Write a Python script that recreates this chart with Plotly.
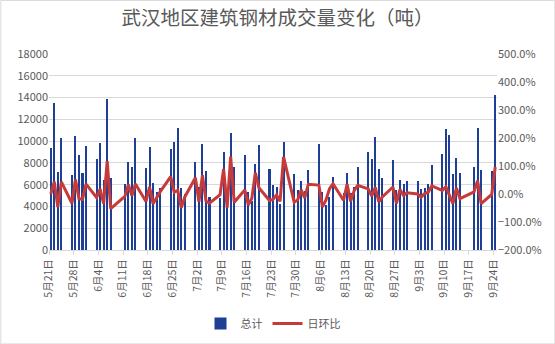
import plotly.graph_objects as go

# ---------------- data ----------------
dates = [
    "2019-05-21", "2019-05-22", "2019-05-23", "2019-05-24",
    "2019-05-27", "2019-05-28", "2019-05-29", "2019-05-30", "2019-05-31",
    "2019-06-03", "2019-06-04", "2019-06-05", "2019-06-06", "2019-06-07",
    "2019-06-11", "2019-06-12", "2019-06-13", "2019-06-14",
    "2019-06-17", "2019-06-18", "2019-06-19", "2019-06-20", "2019-06-21",
    "2019-06-24", "2019-06-25", "2019-06-26", "2019-06-27", "2019-06-28",
    "2019-07-01", "2019-07-02", "2019-07-03", "2019-07-04", "2019-07-05",
    "2019-07-08", "2019-07-09", "2019-07-10", "2019-07-11", "2019-07-12",
    "2019-07-15", "2019-07-16", "2019-07-17", "2019-07-18", "2019-07-19",
    "2019-07-22", "2019-07-23", "2019-07-24", "2019-07-25", "2019-07-26",
    "2019-07-29", "2019-07-30", "2019-07-31", "2019-08-01", "2019-08-02",
    "2019-08-05", "2019-08-06", "2019-08-07", "2019-08-08", "2019-08-09",
    "2019-08-12", "2019-08-13", "2019-08-14", "2019-08-15", "2019-08-16",
    "2019-08-19", "2019-08-20", "2019-08-21", "2019-08-22", "2019-08-23",
    "2019-08-26", "2019-08-27", "2019-08-28", "2019-08-29", "2019-08-30",
    "2019-09-02", "2019-09-03", "2019-09-04", "2019-09-05", "2019-09-06",
    "2019-09-09", "2019-09-10", "2019-09-11", "2019-09-12", "2019-09-13", "2019-09-14",
    "2019-09-18", "2019-09-19", "2019-09-20",
    "2019-09-23", "2019-09-24",
]

total = [
    9400, 13500, 7150, 10250,
    6870, 10450, 8700, 7050, 9550,
    8350, 9800, 6400, 13900, 6600,
    6050, 8050, 7600, 10300,
    7550, 9450, 6150, 5300, 5700,
    9250, 9900, 11200, 5700, 5100,
    8050, 5800, 9700, 7250, 4850,
    4750, 9000, 4600, 10750, 7600,
    8700, 5300, 4500, 7900, 9650,
    7400, 5950, 5750, 4250, 9900,
    6950, 5500, 6300, 5450, 7350,
    9700, 5300, 4150, 4900, 6700,
    5200, 7050, 5200, 5800, 7600,
    9000, 8350, 10350, 7400, 6600,
    8250, 5500, 6400, 6050, 6300,
    6300, 5600, 5700, 6050, 7800,
    8800, 11100, 10550, 6950, 8450, 7050,
    7600, 11200, 7350,
    7250, 14250,
]

daily_change = [
    0.000, 0.436, -0.470, 0.434,
    -0.330, 0.521, -0.167, -0.190, 0.355,
    -0.126, 0.174, -0.347, 1.172, -0.525,
    -0.083, 0.331, -0.056, 0.355,
    -0.267, 0.252, -0.349, -0.138, 0.075,
    0.623, 0.070, 0.131, -0.491, -0.105,
    0.578, -0.280, 0.672, -0.253, -0.331,
    -0.021, 0.895, -0.489, 1.337, -0.293,
    0.145, -0.391, -0.151, 0.756, 0.222,
    -0.233, -0.196, -0.034, -0.261, 1.329,
    -0.298, -0.209, 0.145, -0.135, 0.349,
    0.320, -0.454, -0.217, 0.181, 0.367,
    -0.224, 0.356, -0.262, 0.115, 0.310,
    0.184, -0.072, 0.240, -0.285, -0.108,
    0.250, -0.333, 0.164, -0.055, 0.041,
    0.000, -0.111, 0.018, 0.061, 0.289,
    0.128, 0.261, -0.050, -0.341, 0.216, -0.166,
    0.078, 0.474, -0.344,
    -0.014, 0.966,
]

tick_dates = [
    "2019-05-21", "2019-05-28", "2019-06-04", "2019-06-11", "2019-06-18",
    "2019-06-25", "2019-07-02", "2019-07-09", "2019-07-16", "2019-07-23",
    "2019-07-30", "2019-08-06", "2019-08-13", "2019-08-20", "2019-08-27",
    "2019-09-03", "2019-09-10", "2019-09-17", "2019-09-24",
]
tick_labels = [
    "5月21日", "5月28日", "6月4日", "6月11日", "6月18日",
    "6月25日", "7月2日", "7月9日", "7月16日", "7月23日",
    "7月30日", "8月6日", "8月13日", "8月20日", "8月27日",
    "9月3日", "9月10日", "9月17日", "9月24日",
]

title_text = "武汉地区建筑钢材成交量变化（吨）"
series_names = ["总计", "日环比"]

# ---------------- figure ----------------
DAY_MS = 86400000
FONT = "Noto Sans CJK SC, Microsoft YaHei, sans-serif"
TXT = "#595959"
GRID = "#D9D9D9"

fig = go.Figure()
fig.add_trace(go.Bar(
    x=dates, y=total, name=series_names[0],
    xperiod=DAY_MS, xperiodalignment="middle",
    width=0.58 * DAY_MS,
    marker=dict(color="#1F3F96", line=dict(width=0)),
))
fig.add_trace(go.Scatter(
    x=dates, y=daily_change, name=series_names[1], yaxis="y2",
    xperiod=DAY_MS, xperiodalignment="middle",
    mode="lines", line=dict(color="#C63B3A", width=3),
))

W, H = 555, 344
L, R, T, B = 48.7, 58.3, 54, 94.3
pw, ph = W - L - R, H - T - B

fig.update_layout(
    width=W, height=H,
    margin=dict(l=L, r=R, t=T, b=B, pad=0, autoexpand=False),
    paper_bgcolor="white", plot_bgcolor="white",
    font=dict(family=FONT, color=TXT, size=11),
    title=dict(text=title_text, x=0.5, xanchor="center", y=1 - 18 / H, yanchor="middle",
               font=dict(size=19.5, color=TXT, family=FONT)),
    bargap=0,
    showlegend=True,
    legend=dict(orientation="h", x=0.5, xanchor="center", y=-(323 - (T + ph)) / ph,
                yanchor="middle", font=dict(size=11, color=TXT), bgcolor="rgba(0,0,0,0)",
                itemwidth=30, tracegroupgap=0),
    xaxis=dict(
        type="date", automargin=False,
        range=["2019-05-21", "2019-09-25"],
        tickmode="array", tickvals=tick_dates, ticktext=tick_labels,
        tickangle=-90, tickfont=dict(size=10.5, color=TXT),
        ticks="outside", ticklen=4, tickcolor=GRID,
        showgrid=False, showline=True, linecolor=GRID, linewidth=1,
        zeroline=False,
    ),
    yaxis=dict(
        range=[0, 18000], dtick=2000, tickformat="d", automargin=False,
        showgrid=True, gridcolor=GRID, gridwidth=1,
        zeroline=False, showline=False, ticks="",
        tickfont=dict(size=11, color=TXT),
    ),
    yaxis2=dict(
        overlaying="y", side="right", automargin=False,
        range=[-2, 5], dtick=1, tickformat=".1%",
        showgrid=False, zeroline=False, showline=False, ticks="",
        tickfont=dict(size=11, color=TXT),
    ),
)

# light outer chart border
fig.add_shape(type="rect", xref="paper", yref="paper",
              x0=(0.5 - L) / pw, x1=(W - 0.5 - L) / pw,
              y0=-(B - 0.5) / ph, y1=(ph + T - 0.5) / ph,
              line=dict(color=GRID, width=1), fillcolor="rgba(0,0,0,0)", layer="below")

fig.write_html("out.html")
